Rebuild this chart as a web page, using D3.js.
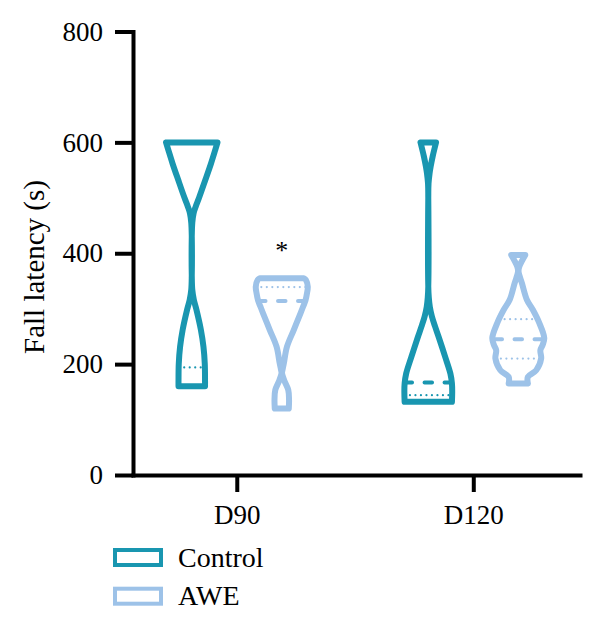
<!DOCTYPE html>
<html><head><meta charset="utf-8">
<script src="https://cdn.jsdelivr.net/npm/d3@7"></script>
<style>body{margin:0;background:#fff}</style>
</head><body><svg id="c" width="600" height="630"></svg>
<script>
const categories = ["D90", "D120"];
const groups = ["Control", "AWE"];
const groupColors = ["#1996b0", "#9dc2e8"];
const yTicks = [0, 200, 400, 600, 800];
const yTitle = "Fall latency (s)";

// Violin outlines: value (s) and relative density
const controlD90Values  = [600, 586, 562, 532, 500, 484, 472, 455, 430, 360, 334, 316, 298, 262, 231, 201, 171, 160];
const controlD90Density = [0.99, 0.90, 0.74, 0.52, 0.28, 0.15, 0.07, 0.02, 0.0, 0.0, 0.02, 0.08, 0.18, 0.35, 0.45, 0.50, 0.51, 0.51];
const aweD90Values  = [355, 351.7, 339.7, 327.7, 314.4, 303.6, 291.7, 261.5, 231.4, 201.5, 190, 183.4, 170, 153.3, 135.3, 120];
const aweD90Density = [0.85, 0.93, 1.0, 0.97, 0.91, 0.82, 0.72, 0.46, 0.20, 0.08, 0.03, 0.01, 0.10, 0.25, 0.28, 0.27];
const controlD120Values  = [600, 575, 556, 544, 526, 500, 340, 320, 303, 286, 268, 249, 213, 183, 165, 150, 132];
const controlD120Density = [0.30, 0.17, 0.09, 0.05, 0.01, 0.0, 0.0, 0.02, 0.06, 0.14, 0.26, 0.40, 0.65, 0.85, 0.91, 0.92, 0.91];
const aweD120Values  = [397, 376, 367, 346, 316, 298, 274, 247, 235, 225, 210, 189, 177, 165];
const aweD120Density = [0.27, 0.04, 0.01, 0.14, 0.33, 0.56, 0.81, 1.0, 0.94, 0.85, 0.88, 0.69, 0.37, 0.37];

// Median and quartiles per category (null = not visible)
const medianControl = [600, 167];
const medianAWE     = [314, 245];
const q1Control = [194, 144];
const q1AWE     = [null, 210];
const q3Control = [600, null];
const q3AWE     = [339, 281];
const sigAWE = ["*", ""];

const violins = [
  {cat: "D90",  group: "Control", values: controlD90Values,  density: controlD90Density,  med: medianControl[0], q1: q1Control[0], q3: q3Control[0], sig: ""},
  {cat: "D90",  group: "AWE",     values: aweD90Values,      density: aweD90Density,      med: medianAWE[0],     q1: q1AWE[0],     q3: q3AWE[0],     sig: sigAWE[0]},
  {cat: "D120", group: "Control", values: controlD120Values, density: controlD120Density, med: medianControl[1], q1: q1Control[1], q3: q3Control[1], sig: ""},
  {cat: "D120", group: "AWE",     values: aweD120Values,     density: aweD120Density,     med: medianAWE[1],     q1: q1AWE[1],     q3: q3AWE[1],     sig: sigAWE[1]}
];

const svg = d3.select("#c");
const font = "'Liberation Serif', 'Times New Roman', serif";
const color = d3.scaleOrdinal().domain(groups).range(groupColors);

const x = d3.scalePoint().domain(categories).range([133, 580]).padding(0.445).align(0.493);
const xg = d3.scalePoint().domain(groups).range([-45, 45]);
const y = d3.scaleLinear().domain([0, 800]).range([475, 31.5]);
const w = d3.scaleLinear().domain([0, 1]).range([0, 26]);

// axes
const yAxis = svg.append("g").attr("transform", "translate(133,0)")
  .call(d3.axisLeft(y).tickValues(yTicks).tickSize(18).tickSizeOuter(0).tickPadding(12));
const xAxis = svg.append("g").attr("transform", "translate(0,475)")
  .call(d3.axisBottom(x).tickSize(17).tickSizeOuter(0));
[yAxis, xAxis].forEach(g => {
  g.select(".domain").attr("stroke", "#000").attr("stroke-width", 4).attr("stroke-linecap", "square");
  g.selectAll(".tick line").attr("stroke", "#000").attr("stroke-width", 4);
  g.selectAll("text").attr("fill", "#000").style("font-family", font).style("font-size", "27px");
});
xAxis.selectAll(".tick text").attr("y", 49).attr("dy", 0);

svg.append("text")
  .attr("transform", "translate(44,267) rotate(-90)")
  .attr("text-anchor", "middle")
  .style("font-family", font).style("font-size", "29px")
  .text(yTitle);

function halfAt(v, val) {
  const vs = v.values, ds = v.density;
  for (let i = 0; i < vs.length - 1; i++) {
    const a = vs[i], b = vs[i + 1];
    if ((val <= a && val >= b)) {
      const t = (a - val) / (a - b);
      return w(ds[i] + t * (ds[i + 1] - ds[i]));
    }
  }
  return 0;
}

violins.forEach(v => {
  const cx = x(v.cat) + xg(v.group);
  const col = color(v.group);
  const pts = v.values.map((val, i) => ({v: val, d: v.density[i]}));
  const g = svg.append("g");
  // quartiles (dotted)
  [v.q1, v.q3].forEach(q => {
    if (q == null) return;
    const hw = halfAt(v, q);
    g.append("line").attr("x1", cx - hw).attr("x2", cx + hw).attr("y1", y(q)).attr("y2", y(q))
      .attr("stroke", col).attr("stroke-width", 2.2).attr("stroke-linecap", "round")
      .attr("stroke-dasharray", "0,5.5");
  });
  // median (dashed)
  if (v.med != null) {
    const hw = halfAt(v, v.med);
    const dash = 7.5, period = 20;
    const off = ((period - ((hw - dash / 2) % period)) % period);
    g.append("line").attr("x1", cx - hw).attr("x2", cx + hw).attr("y1", y(v.med)).attr("y2", y(v.med))
      .attr("stroke", col).attr("stroke-width", 4).attr("stroke-linecap", "round")
      .attr("stroke-dasharray", dash + "," + (period - dash))
      .attr("stroke-dashoffset", off);
  }
  const area = d3.area()
    .y(d => y(d.v))
    .x0(d => cx - w(d.d))
    .x1(d => cx + w(d.d))
    .curve(d3.curveCatmullRom.alpha(0.5));
  g.append("path").attr("d", area(pts))
    .attr("fill", "none").attr("stroke", col).attr("stroke-width", 6)
    .attr("stroke-linejoin", "round");
  if (v.sig) {
    svg.append("text").attr("x", cx).attr("y", y(d3.max(v.values)) - 19)
      .attr("text-anchor", "middle")
      .style("font-family", font).style("font-size", "26px")
      .text(v.sig);
  }
});

// legend
const leg = svg.append("g").attr("transform", "translate(115,550)");
groups.forEach((gname, i) => {
  const row = leg.append("g").attr("transform", `translate(0,${i * 38.7})`);
  row.append("rect").attr("x", 0).attr("y", 0).attr("width", 46).attr("height", 15)
    .attr("fill", "#fff").attr("stroke", color(gname)).attr("stroke-width", 4);
  row.append("text").attr("x", 63).attr("y", 16.7)
    .style("font-family", font).style("font-size", "28px").text(gname);
});
</script></body></html>
